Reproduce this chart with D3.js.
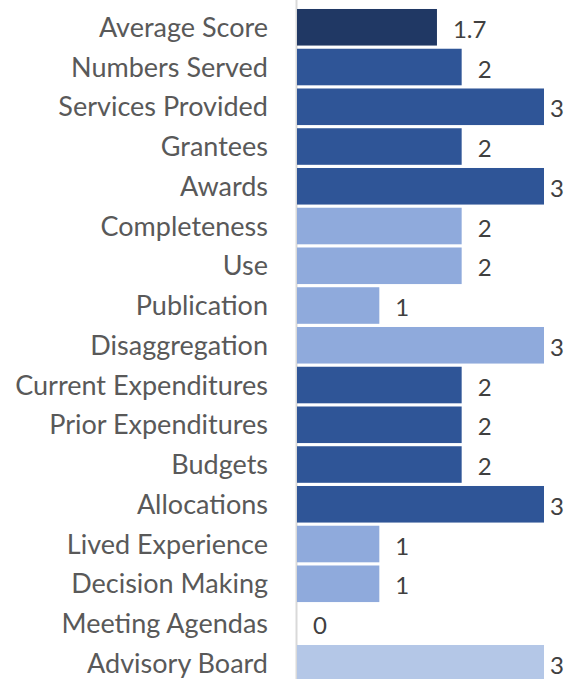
<!DOCTYPE html>
<html>
<head>
<meta charset="utf-8">
<script src="https://cdn.jsdelivr.net/npm/d3@7"></script>
<style>
  body { margin: 0; background: #fff; }
  svg text { font-family: Lato, "Open Sans", sans-serif; }
</style>
</head>
<body>
<div id="chart"></div>
<script>
// chart data
const categories = ["Average Score", "Numbers Served", "Services Provided", "Grantees", "Awards",
  "Completeness", "Use", "Publication", "Disaggregation", "Current Expenditures",
  "Prior Expenditures", "Budgets", "Allocations", "Lived Experience", "Decision Making",
  "Meeting Agendas", "Advisory Board"];
const scores = [1.7, 2, 3, 2, 3, 2, 2, 1, 3, 2, 2, 2, 3, 1, 1, 0, 3];
const groups = ["avg", "mid", "mid", "mid", "mid", "light", "light", "light", "light",
  "mid", "mid", "mid", "mid", "light", "light", "light", "lighter"];

const width = 571, height = 679;
const margin = { top: 9, right: 27, bottom: 0, left: 297 };

const color = d3.scaleOrdinal()
  .domain(["avg", "mid", "light", "lighter"])
  .range(["#203864", "#2F5597", "#8FAADC", "#B4C7E7"]);

const svg = d3.select("#chart").append("svg")
  .attr("width", width).attr("height", height);

let x = d3.scaleLinear().domain([0, 3]).range([margin.left, 544]);
let y = d3.scaleBand().domain(categories)
  .range([margin.top - 1.6, margin.top - 1.6 + 39.75 * categories.length])
  .paddingInner(0.08).paddingOuter(0.04);

// axis line
svg.append("line")
  .attr("x1", margin.left - 0.5).attr("x2", margin.left - 0.5)
  .attr("y1", 0).attr("y2", height)
  .attr("stroke", "#d9d9d9").attr("stroke-width", 2);

let rows = categories.map((c, i) => ({ name: c, value: scores[i], group: groups[i] }));

svg.append("g").selectAll("rect").data(rows).join("rect")
  .attr("x", x(0))
  .attr("y", d => y(d.name))
  .attr("width", d => x(d.value) - x(0))
  .attr("height", y.bandwidth())
  .attr("fill", d => color(d.group));

// category labels
svg.append("g").selectAll("text").data(rows).join("text")
  .attr("x", 268)
  .attr("y", d => y(d.name) + y.bandwidth() / 2)
  .attr("dy", "0.36em")
  .attr("text-anchor", "end")
  .attr("fill", "#595959")
  .style("font-size", "27px")
  .text(d => d.name);

// value labels (right-most ones are pulled in so they stay on the canvas)
svg.append("g").selectAll("text").data(rows).join("text")
  .attr("x", d => Math.min(x(d.value) + 16, 550))
  .attr("y", d => y(d.name) + y.bandwidth() / 2 + 2)
  .attr("dy", "0.36em")
  .attr("fill", "#404040")
  .style("font-size", "24px")
  .text(d => d.value);
</script>
</body>
</html>
